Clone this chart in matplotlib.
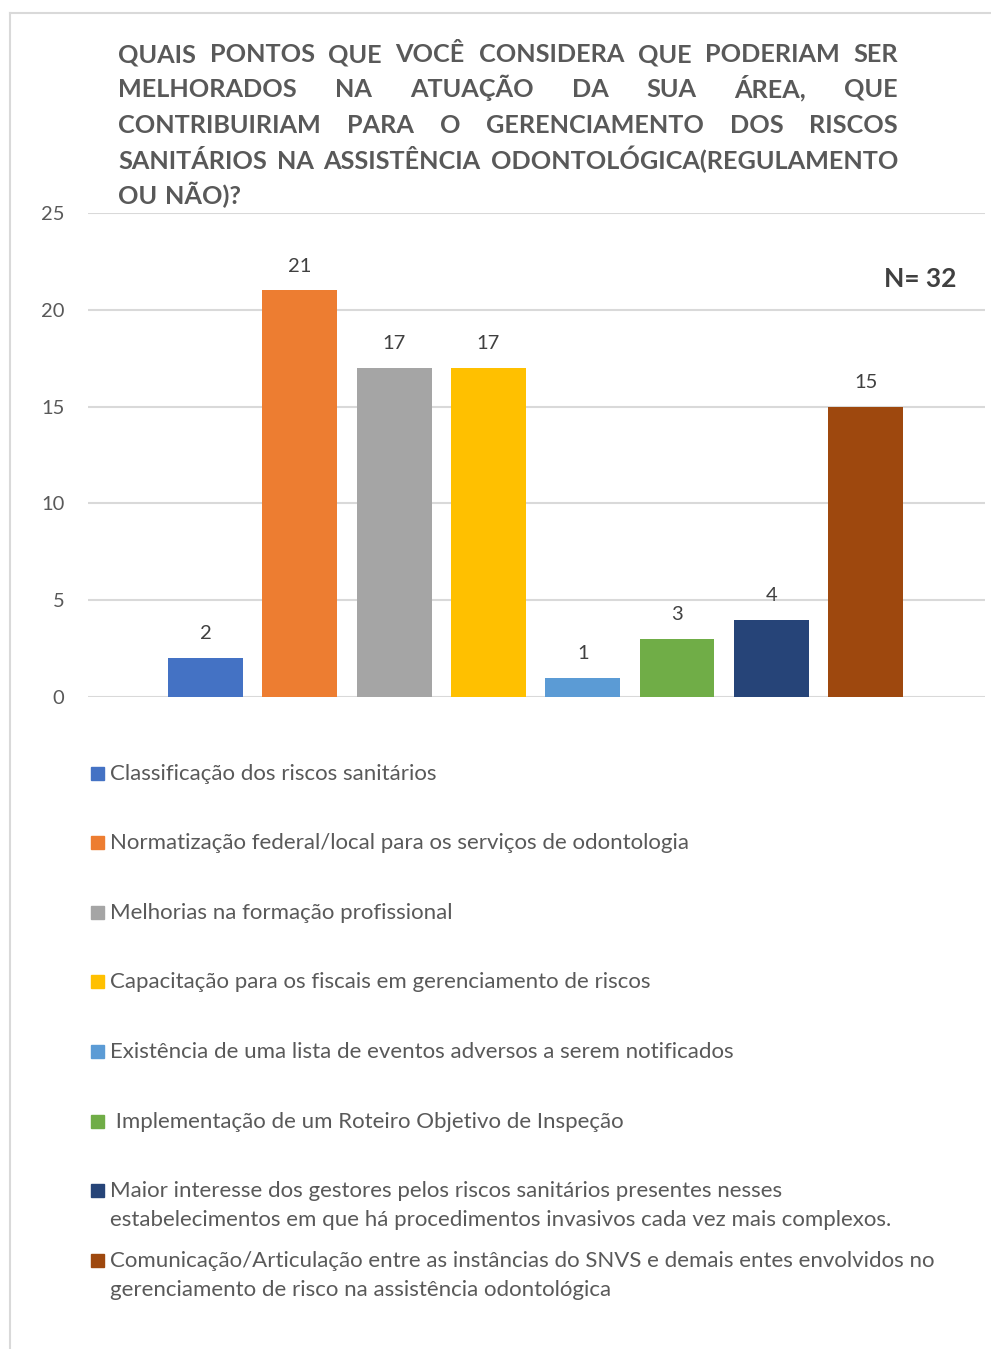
import matplotlib
matplotlib.use("Agg")
import matplotlib.pyplot as plt
from matplotlib.lines import Line2D
from matplotlib.patches import Rectangle

plt.rcParams['font.family'] = ['Lato', 'DejaVu Sans']

# --- dados ---
categorias = [
    "Classificação dos riscos sanitários",
    "Normatização federal/local para os serviços de odontologia",
    "Melhorias na formação profissional",
    "Capacitação para os fiscais em gerenciamento de riscos",
    "Existência de uma lista de eventos adversos a serem notificados",
    " Implementação de um Roteiro Objetivo de Inspeção",
    "Maior interesse dos gestores pelos riscos sanitários presentes nesses\n"
    "estabelecimentos em que há procedimentos invasivos cada vez mais complexos.",
    "Comunicação/Articulação entre as instâncias do SNVS e demais entes envolvidos no\n"
    "gerenciamento de risco na assistência odontológica",
]
valores = [2, 21, 17, 17, 1, 3, 4, 15]
cores = ["#4472C4", "#ED7D31", "#A5A5A5", "#FFC000",
         "#5B9BD5", "#70AD47", "#264478", "#9E480E"]
yticks = [0, 5, 10, 15, 20, 25]
titulo_linhas = [
    "QUAIS PONTOS QUE VOCÊ CONSIDERA QUE PODERIAM SER",
    "MELHORADOS NA ATUAÇÃO DA SUA ÁREA, QUE",
    "CONTRIBUIRIAM PARA O GERENCIAMENTO DOS RISCOS",
    "SANITÁRIOS NA ASSISTÊNCIA ODONTOLÓGICA(REGULAMENTO",
    "OU NÃO)?",
]

W, H = 991, 1349
fig = plt.figure(figsize=(W / 100, H / 100), dpi=100)

def fx(px):
    return px / W

def fy(py):
    return 1 - py / H

# borda do gráfico (topo e esquerda)
fig.add_artist(Line2D([fx(10), 1], [fy(13), fy(13)], color="#D9D9D9", lw=1.5))
fig.add_artist(Line2D([fx(10), fx(10)], [fy(13), 0], color="#D9D9D9", lw=1.5))

# --- eixo ---
ax = fig.add_axes([fx(88), fy(697), fx(985) - fx(88), fy(213) - fy(697)])
x = list(range(len(valores)))
bars = ax.bar(x, valores, width=0.795, color=cores, zorder=3)
ax.set_xlim(-1.246, 8.266)
ax.set_ylim(0, 25)
ax.set_yticks(yticks)
ax.yaxis.grid(True, color="#D9D9D9", lw=1.5, zorder=0)
ax.set_xticks([])
for s in ax.spines.values():
    s.set_visible(False)
ax.tick_params(axis='y', length=0, pad=17, labelsize=14.5, labelcolor="#595959")

for xi, v in zip(x, valores):
    ax.annotate(str(v), (xi, v), xytext=(0, 17.5), textcoords="offset points",
                ha="center", va="center", fontsize=14.5, color="#404040")

fig.text(fx(920), fy(279), "N= 32", ha="center", va="center",
         fontsize=19, fontweight="bold", color="#404040")

# --- título justificado ---
tit_left, tit_right = 118, 898
tit_y = [52, 87, 123, 159, 194]
renderer = fig.canvas.get_renderer()
for i, (linha, yy) in enumerate(zip(titulo_linhas, tit_y)):
    palavras = linha.split(" ")
    objs = [fig.text(0, fy(yy + 10), p, ha="left", va="baseline", fontsize=18.2,
                     fontweight="bold", color="#595959") for p in palavras]
    larg = [o.get_window_extent(renderer).width for o in objs]
    if i < len(titulo_linhas) - 1 and len(objs) > 1:
        gap = (tit_right - tit_left - sum(larg)) / (len(objs) - 1)
    else:
        gap = 8
    pos = tit_left
    for o, w in zip(objs, larg):
        o.set_x(fx(pos))
        pos += w + gap

# --- legenda ---
leg_y = [773, 842, 912, 981, 1051, 1121, 1190, 1260]
for cat, cor, yy in zip(categorias, cores, leg_y):
    fig.add_artist(Rectangle((fx(91), fy(yy + 6.5)), fx(13), 13 / H,
                             color=cor, transform=fig.transFigure))
    for k, parte in enumerate(cat.split("\n")):
        fig.text(fx(110), fy(yy + 7 + 29 * k), parte, ha="left", va="baseline",
                 fontsize=16, color="#595959")

fig.savefig("out.png", dpi=100)
